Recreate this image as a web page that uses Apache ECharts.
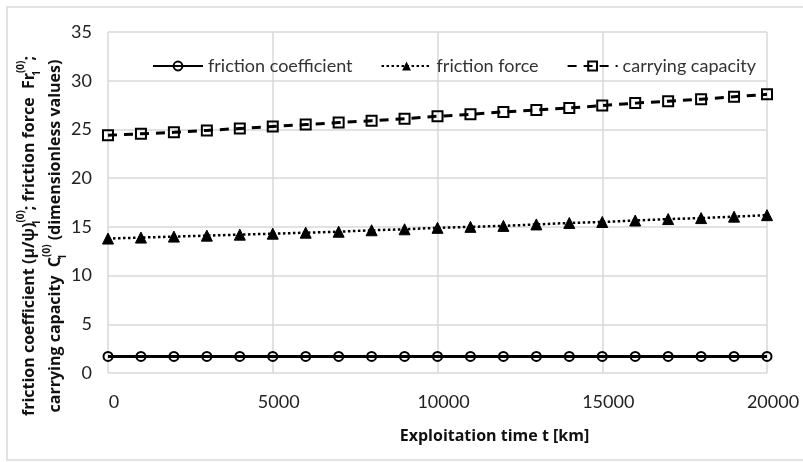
<!DOCTYPE html>
<html>
<head>
<meta charset="utf-8">
<script src="https://cdn.jsdelivr.net/npm/echarts@6/dist/echarts.min.js"></script>
<style>
  html, body { margin: 0; padding: 0; background: #fff; }
  #chart { width: 803px; height: 462px; }
</style>
</head>
<body>
<div id="chart"></div>
<script>
// exploitation time, km
var timeKm = [0, 1000, 2000, 3000, 4000, 5000, 6000, 7000, 8000, 9000, 10000,
  11000, 12000, 13000, 14000, 15000, 16000, 17000, 18000, 19000, 20000];
var frictionCoef = [1.7, 1.7, 1.7, 1.7, 1.7, 1.7, 1.7, 1.7, 1.7, 1.7, 1.7,
  1.7, 1.7, 1.7, 1.7, 1.7, 1.7, 1.7, 1.7, 1.7, 1.7];
var frictionForce = [13.8, 13.9, 14.0, 14.1, 14.2, 14.3, 14.4, 14.5, 14.65, 14.75, 14.9,
  15.0, 15.1, 15.25, 15.4, 15.5, 15.65, 15.8, 15.9, 16.05, 16.2];
var carryingCap = [24.4, 24.55, 24.7, 24.9, 25.1, 25.3, 25.5, 25.7, 25.9, 26.1, 26.35,
  26.55, 26.8, 27.0, 27.2, 27.45, 27.7, 27.9, 28.1, 28.35, 28.6];
var seriesNames = ['friction coefficient', 'friction force', 'carrying capacity'];

function pairs(ys) {
  return ys.map(function (y, i) { return [timeKm[i], y]; });
}

var font = 'Lato, "Open Sans", sans-serif';
var boldFont = '"Open Sans", Lato, sans-serif';
var txt = '#222';

// y axis title, sub/superscripts stacked (sub has zero width)
var yTitle =
  '{b|friction coefficient (\u03bc/\u03c8)}{sub|1}{sup|(0)}{b|; friction force  Fr}{sub|1}{sup|(0)}{b|;}\n' +
  '{b|carrying capacity  C}{sub|1}{sup|(0)}{b| (dimensionless values)}';

var chart = echarts.init(document.getElementById('chart'));

chart.setOption({
  animation: false,
  textStyle: { fontFamily: font },
  graphic: [{
    type: 'rect',
    shape: { x: 7, y: 7, width: 802, height: 453 },
    style: { fill: 'none', stroke: '#d9d9d9', lineWidth: 1.5 },
    silent: true
  }, {
    type: 'text',
    x: 42, y: 236,
    rotation: Math.PI / 2,
    silent: true,
    style: {
      text: yTitle,
      align: 'center',
      verticalAlign: 'middle',
      fill: '#111',
      rich: {
        b: { fontFamily: boldFont, fontSize: 16, fontWeight: 'bold', lineHeight: 26, fill: '#111' },
        sub: { fontFamily: boldFont, fontSize: 10, fontWeight: 'bold', lineHeight: 13, verticalAlign: 'bottom', width: 0, fill: '#111' },
        sup: { fontFamily: boldFont, fontSize: 10, fontWeight: 'bold', lineHeight: 13, verticalAlign: 'top', fill: '#111' }
      }
    }
  }],
  grid: { left: 108, top: 32, right: 36, bottom: 89 },
  legend: {
    top: 52,
    left: 147,
    itemWidth: 50,
    itemHeight: 11,
    itemGap: 28,
    textStyle: { fontSize: 18, color: '#333', fontFamily: font },
    data: seriesNames
  },
  xAxis: {
    type: 'value',
    min: 0, max: 20000, interval: 5000,
    name: 'Exploitation time t [km]',
    nameLocation: 'middle',
    nameGap: 55,
    nameTextStyle: { fontSize: 16, fontWeight: 'bold', fontFamily: boldFont, color: '#111', padding: [0, 0, 0, 114] },
    axisLine: { show: false },
    axisTick: { show: false },
    axisLabel: {
      fontSize: 18, color: txt, margin: 20, padding: [0, 0, 0, 12],
      formatter: function (v) { return String(v); }
    },
    splitLine: { lineStyle: { color: '#d9d9d9', width: 1.5 } }
  },
  yAxis: {
    type: 'value',
    min: 0, max: 35, interval: 5,
    axisLine: { show: false },
    axisTick: { show: false },
    axisLabel: { fontSize: 18, color: txt, margin: 16 },
    splitLine: { lineStyle: { color: '#d9d9d9', width: 1.5 } }
  },
  series: [{
    name: seriesNames[0],
    type: 'line',
    data: pairs(frictionCoef),
    symbol: 'circle',
    symbolSize: 9,
    lineStyle: { color: '#000', width: 3 },
    itemStyle: { color: 'rgba(255,255,255,0)', borderColor: '#000', borderWidth: 2 }
  }, {
    name: seriesNames[1],
    type: 'line',
    data: pairs(frictionForce),
    symbol: 'triangle',
    symbolSize: 11,
    lineStyle: { color: '#000', width: 2.5, type: [2.5, 2.5] },
    itemStyle: { color: '#000', borderColor: '#000' }
  }, {
    name: seriesNames[2],
    type: 'line',
    data: pairs(carryingCap),
    symbol: 'rect',
    symbolSize: 10,
    lineStyle: { color: '#000', width: 3, type: [9, 7] },
    itemStyle: { color: 'rgba(255,255,255,0)', borderColor: '#000', borderWidth: 2 }
  }]
});
</script>
</body>
</html>
